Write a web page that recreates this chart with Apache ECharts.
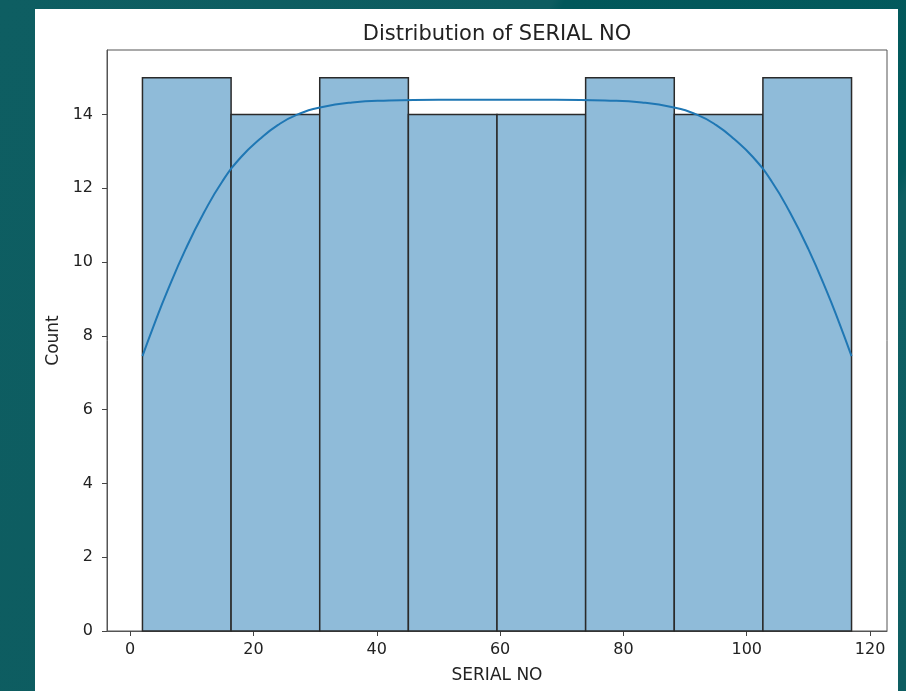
<!DOCTYPE html>
<html>
<head>
<meta charset="utf-8">
<script src="https://cdn.jsdelivr.net/npm/echarts@6/dist/echarts.min.js"></script>
<style>
html,body{margin:0;padding:0;width:906px;height:691px;overflow:hidden;}
body{background:linear-gradient(115deg,#0e5e62 0%,#0d5c60 45%,#02575a 46%,#035a5d 80%,#0f5f63 81%,#0e5e62 100%);position:relative;}
#panel{position:absolute;left:35px;top:9px;width:863px;height:682px;background:#ffffff;}
#chart{position:absolute;left:0;top:0;width:906px;height:691px;}
</style>
</head>
<body>
<div id="panel"></div>
<div id="chart"></div>
<script>
// Histogram bin edges and counts
const binEdges = [2, 16.375, 30.75, 45.125, 59.5, 73.875, 88.25, 102.625, 117];
const binCounts = [15, 14, 15, 14, 14, 15, 14, 15];
// KDE curve points (x, count)
const kdeX = [2, 4, 6, 9, 12, 15, 18, 21, 24, 27, 31, 36, 42, 50, 59.5, 69, 77, 83, 88, 92, 95, 98, 101, 104, 107, 110, 113, 115, 117];
const kdeY = [7.45, 8.35, 9.2, 10.35, 11.35, 12.2, 12.85, 13.33, 13.72, 13.99, 14.2, 14.33, 14.38, 14.4, 14.4, 14.4, 14.38, 14.33, 14.2, 13.99, 13.72, 13.33, 12.85, 12.2, 11.35, 10.35, 9.2, 8.35, 7.45];
const xTicks = [0, 20, 40, 60, 80, 100, 120];
const yTicks = [0, 2, 4, 6, 8, 10, 12, 14];

const histData = binCounts.map((c, i) => [binEdges[i], binEdges[i + 1], c]);
const kdeData = kdeX.map((x, i) => [x, kdeY[i]]);

const chart = echarts.init(document.getElementById('chart'), null, {renderer: 'canvas'});
const font = 'DejaVu Sans';
chart.setOption({
  backgroundColor: 'transparent',
  animation: false,
  title: {
    text: 'Distribution of SERIAL NO',
    left: 492, top: 19, textAlign: 'center',
    textStyle: {fontFamily: font, fontSize: 21, fontWeight: 'normal', color: '#222'}
  },
  grid: {left: 107, top: 50, right: 19, bottom: 60, show: true, borderColor: '#555', borderWidth: 1, backgroundColor: 'transparent'},
  xAxis: {
    type: 'value', min: -3.75, max: 122.75,
    name: 'SERIAL NO', nameLocation: 'middle', nameGap: 36,
    nameTextStyle: {fontFamily: font, fontSize: 17, color: '#222'},
    axisLine: {show: true, onZero: false, lineStyle: {color: '#555', width: 1}},
    axisTick: {show: true, length: 5, inside: false, customValues: xTicks, lineStyle: {color: '#444'}},
    axisLabel: {customValues: xTicks, margin: 11, fontFamily: font, fontSize: 16, color: '#222'},
    splitLine: {show: false}
  },
  yAxis: {
    type: 'value', min: 0, max: 15.75,
    name: 'Count', nameLocation: 'middle', nameGap: 42,
    nameTextStyle: {fontFamily: font, fontSize: 17, color: '#222'},
    axisLine: {show: true, onZero: false, lineStyle: {color: '#555', width: 1}},
    axisTick: {show: true, length: 5, customValues: yTicks, lineStyle: {color: '#444'}},
    axisLabel: {customValues: yTicks, margin: 14, fontFamily: font, fontSize: 16, color: '#222'},
    splitLine: {show: false}
  },
  series: [
    {
      type: 'custom',
      data: histData,
      encode: {x: [0, 1], y: 2},
      renderItem: function (params, api) {
        const p0 = api.coord([api.value(0), api.value(2)]);
        const p1 = api.coord([api.value(1), 0]);
        return {
          type: 'rect',
          shape: {x: p0[0], y: p0[1], width: p1[0] - p0[0], height: p1[1] - p0[1]},
          style: {fill: '#8fbbd9', stroke: '#2a2a2a', lineWidth: 1.5}
        };
      },
      z: 2
    },
    {
      type: 'line',
      data: kdeData,
      smooth: 0.5,
      showSymbol: false,
      lineStyle: {color: '#1f77b4', width: 2},
      z: 3
    }
  ]
});
</script>
</body>
</html>
